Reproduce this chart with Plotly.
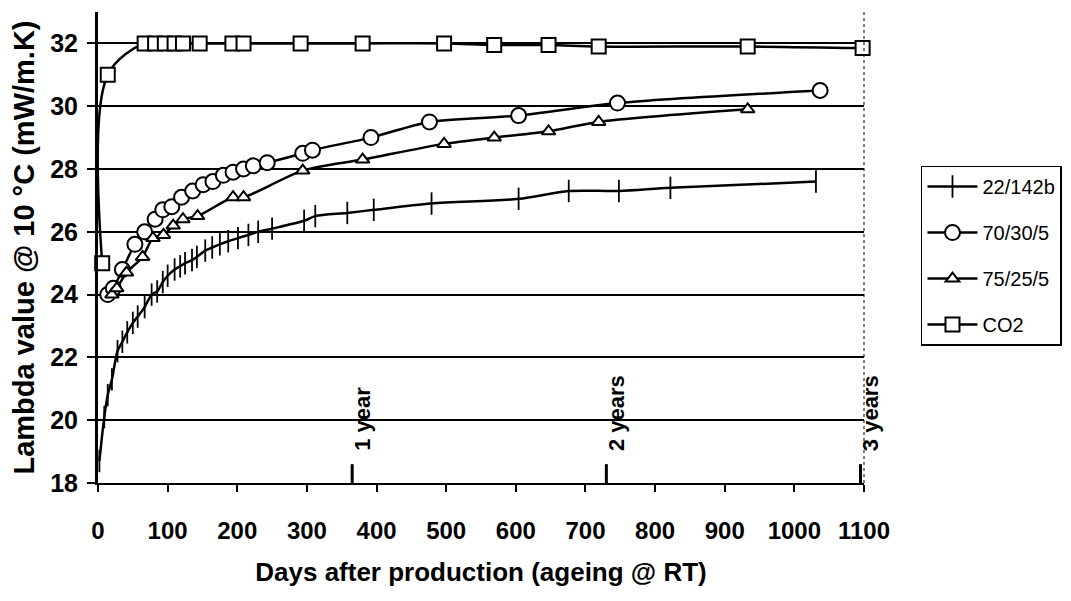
import plotly.graph_objects as go

# ---- data ----
days_2214 = [2, 9, 14, 20, 28, 35, 42, 50, 57, 67, 77, 85, 93, 100, 110, 118, 125, 135, 142,
             154, 164, 175, 187, 201, 216, 230, 250, 296, 312, 358, 396, 479, 604, 676, 748, 822, 1031]
vals_2214 = [18.7, 20.1, 20.8, 21.3, 22.2, 22.5, 22.8, 23.1, 23.3, 23.6, 24.0, 24.1, 24.4, 24.6, 24.8,
             24.9, 25.0, 25.1, 25.2, 25.4, 25.5, 25.6, 25.7, 25.8, 25.9, 26.0, 26.1, 26.35, 26.5, 26.6,
             26.7, 26.9, 27.05, 27.3, 27.3, 27.4, 27.6]

days_70305 = [14, 22, 35, 53, 67, 82, 93, 106, 120, 136, 151, 165, 180, 194, 209, 223, 243,
              294, 308, 392, 476, 604, 746, 1037]
vals_70305 = [24.0, 24.2, 24.8, 25.6, 26.0, 26.4, 26.7, 26.8, 27.1, 27.3, 27.5, 27.6, 27.8, 27.9,
              28.0, 28.1, 28.2, 28.5, 28.6, 29.0, 29.5, 29.7, 30.1, 30.5]

days_75255 = [20, 27, 41, 64, 79, 94, 108, 122, 143, 194, 209, 294, 380, 497, 569, 647, 719, 933]
vals_75255 = [24.0, 24.2, 24.7, 25.2, 25.8, 25.9, 26.2, 26.4, 26.5, 27.1, 27.1, 27.95, 28.3,
              28.8, 29.0, 29.2, 29.5, 29.9]

days_co2 = [6, 14, 67, 82, 96, 110, 122, 146, 193, 209, 291, 380, 497, 569, 647, 719, 933, 1098]
vals_co2 = [25.0, 31.0, 32.0, 32.0, 32.0, 32.0, 32.0, 32.0, 32.0, 32.0, 32.0, 32.0, 32.0,
            31.95, 31.95, 31.9, 31.9, 31.85]

series_names = ["22/142b", "70/30/5", "75/25/5", "CO2"]

x_ticks = list(range(0, 1101, 100))
y_ticks = list(range(18, 33, 2))

year_days = [365, 730, 1095]
year_labels = ["1 year", "2 years", "3 years"]

# ---- figure ----
FONT = "Liberation Sans, Arial, sans-serif"
fig = go.Figure()
line_style = dict(color="black", width=2.5, shape="spline", smoothing=0.8)

fig.add_trace(go.Scatter(
    x=days_2214, y=vals_2214, name=series_names[0], mode="lines+markers", legendgroup="a",
    line=line_style,
    marker=dict(symbol="line-ns", size=16, color="black", line=dict(color="black", width=1.8)),
    cliponaxis=False))
fig.add_trace(go.Scatter(
    x=days_70305, y=vals_70305, name=series_names[1], mode="lines+markers", legendgroup="b",
    line=line_style,
    marker=dict(symbol="circle", size=15, color="white", line=dict(color="black", width=2)),
    cliponaxis=False))
fig.add_trace(go.Scatter(
    x=days_75255, y=vals_75255, name=series_names[2], mode="lines+markers", legendgroup="c",
    line=line_style,
    marker=dict(symbol="triangle-up", size=12, color="white", line=dict(color="black", width=2)),
    cliponaxis=False))
fig.add_trace(go.Scatter(
    x=days_co2, y=vals_co2, name=series_names[3], mode="lines+markers", legendgroup="d",
    line=dict(color="black", width=2.5, shape="spline", smoothing=1.0),
    marker=dict(symbol="square", size=14, color="white", line=dict(color="black", width=2)),
    cliponaxis=False))

# year markers
shapes = []
annotations = []
for d, lab in zip(year_days, year_labels):
    shapes.append(dict(type="line", xref="x", yref="y", x0=d, x1=d, y0=17.55, y1=18.6,
                       line=dict(color="black", width=3)))
    annotations.append(dict(x=d, y=18.95, xref="x", yref="y", text=lab, textangle=-90,
                            showarrow=False, xanchor="left", yanchor="bottom", xshift=-5,
                            font=dict(family=FONT, size=22, color="black", weight="bold")))
# dotted right border
shapes.append(dict(type="line", xref="paper", yref="paper", x0=1, x1=1, y0=0, y1=1,
                   line=dict(color="black", width=1, dash="dot")))

# the page body adds an 8px margin around the figure, so the figure is 16px smaller
fig.update_layout(
    width=1055, height=585,
    margin=dict(l=90, r=199, t=4, b=110, autoexpand=False),
    paper_bgcolor="white", plot_bgcolor="white",
    showlegend=True,
    legend=dict(x=1.0744, y=0.674, xanchor="left", yanchor="top",
                bordercolor="black", borderwidth=1.5, bgcolor="white",
                font=dict(family=FONT, size=20, color="black"),
                itemwidth=50,
                traceorder="grouped", tracegroupgap=17),
    shapes=shapes,
    annotations=annotations,
    xaxis=dict(range=[0, 1100], tickvals=x_ticks, showgrid=False, zeroline=False,
               automargin=False,
               showline=True, linecolor="black", linewidth=2,
               ticks="outside", ticklen=7, tickwidth=1.5, tickcolor="black",
               ticklabelstandoff=18,
               tickfont=dict(family=FONT, size=24, color="black", weight="bold"),
               title=dict(text="Days after production (ageing @ RT)",
                          font=dict(family=FONT, size=26, color="black", weight="bold"),
                          standoff=20)),
    yaxis=dict(range=[18, 33], tickvals=y_ticks, showgrid=True, gridcolor="black", gridwidth=1.5,
               automargin=False,
               zeroline=False, showline=True, linecolor="black", linewidth=3,
               ticks="outside", ticklen=8, tickwidth=1.5, tickcolor="black",
               ticklabelstandoff=4,
               tickfont=dict(family=FONT, size=25, color="black", weight="bold"),
               title=dict(text="Lambda value @ 10 °C (mW/m.K)",
                          font=dict(family=FONT, size=29, color="black", weight="bold"),
                          standoff=10)),
)

fig.write_html("out.html")
